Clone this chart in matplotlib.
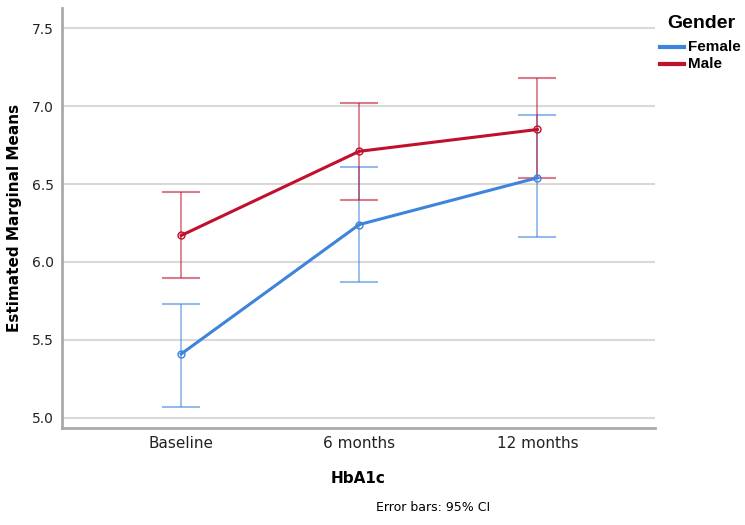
import matplotlib
matplotlib.use("Agg")
import matplotlib.pyplot as plt
import numpy as np

categories = ["Baseline", "6 months", "12 months"]
female_mean = [5.41, 6.24, 6.54]
female_low = [5.07, 5.87, 6.16]
female_high = [5.73, 6.61, 6.94]
male_mean = [6.17, 6.71, 6.85]
male_low = [5.90, 6.40, 6.54]
male_high = [6.45, 7.02, 7.18]
yticks = [5.0, 5.5, 6.0, 6.5, 7.0, 7.5]

c_f = "#3d84db"
c_m = "#c0102c"

fig = plt.figure(figsize=(7.45, 5.25), dpi=100)
ax = fig.add_axes([0.083, 0.185, 0.796, 0.80])
x = np.arange(len(categories))

for mean, lo, hi, col in [(female_mean, female_low, female_high, c_f), (male_mean, male_low, male_high, c_m)]:
    mean = np.array(mean); lo = np.array(lo); hi = np.array(hi)
    ax.errorbar(x, mean, yerr=[mean - lo, hi - mean], fmt="none", ecolor=col, alpha=0.55,
                elinewidth=1.3, capsize=14, capthick=1.5, zorder=2)
    ax.plot(x, mean, color=col, lw=2.2, marker="o", ms=5, mfc="none", mec=col, mew=1, zorder=3)

ax.set_xlim(-0.67, 2.66)
ax.set_ylim(4.936, 7.63)
ax.set_yticks(yticks)
ax.set_yticklabels([f"{v:.1f}" for v in yticks])
ax.set_xticks(x)
ax.set_xticklabels(categories)
ax.grid(axis="y", color="#d9d9d9", lw=1.5)
ax.set_axisbelow(True)
ax.tick_params(length=0, labelsize=11, colors="#222222", pad=6)
ax.tick_params(axis="y", labelsize=10, pad=6)
for s in ["top", "right"]:
    ax.spines[s].set_visible(False)
for s in ["left", "bottom"]:
    ax.spines[s].set_color("#aaaaaa")
    ax.spines[s].set_linewidth(2)

ax.set_xlabel("HbA1c", fontsize=11, fontweight="bold", labelpad=14)
fig.text(0.020, 0.585, "Estimated Marginal Means", fontsize=11, fontweight="bold",
         rotation=90, ha="center", va="center")
fig.text(0.581, 0.034, "Error bars: 95% CI", fontsize=9, ha="center", va="center")

fig.text(0.896, 0.956, "Gender", fontsize=14, fontweight="bold", family="Liberation Sans", va="center")
for i, (lab, col) in enumerate([("Female", c_f), ("Male", c_m)]):
    yy = 0.910 - i * 0.031
    fig.add_artist(plt.Line2D([0.886, 0.918], [yy, yy], color=col, lw=3, transform=fig.transFigure))
    fig.text(0.924, yy, lab, fontsize=11, fontweight="bold", family="Liberation Sans", va="center")

fig.savefig("out.png", dpi=100)
